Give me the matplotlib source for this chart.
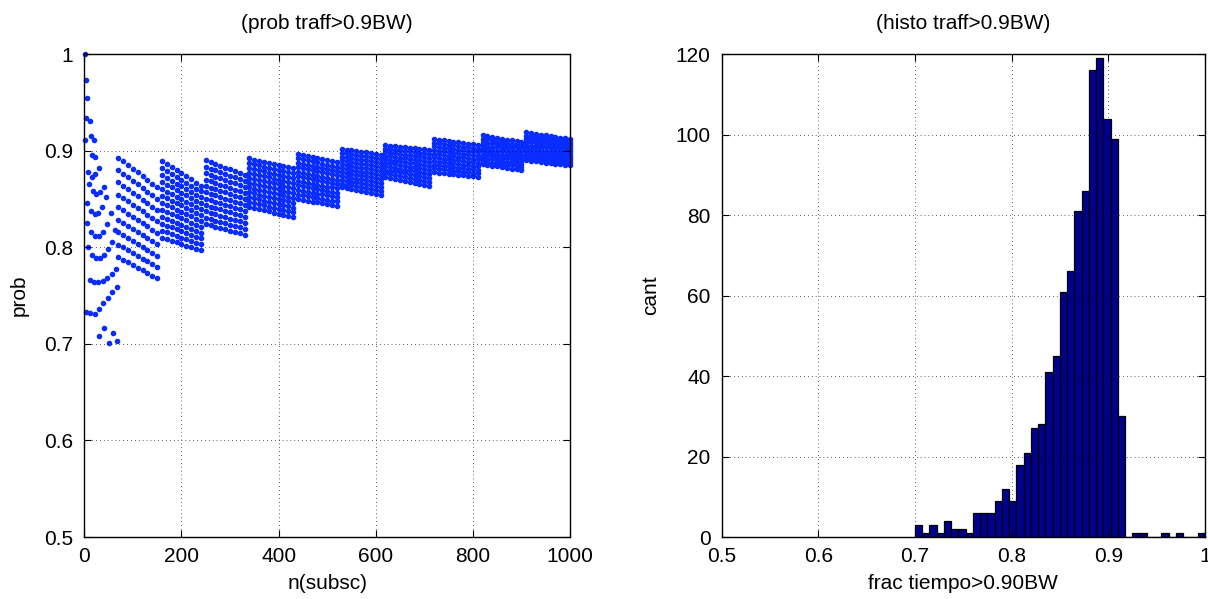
import numpy as np
import matplotlib.pyplot as plt

plt.rcParams['font.family'] = ['Liberation Sans', 'DejaVu Sans']

# --- left panel: prob vs number of subscribers ---
# first group (few subscribers), read point by point
b1_n = [1, 3, 5, 4, 11, 2, 13, 20, 16, 22,
        8, 15, 23, 31,
        10, 17, 25, 33, 40,
        5, 13, 21, 29, 37, 45,
        6, 14, 22, 30, 38, 46, 54,
        8, 16, 24, 32, 40, 48, 56, 64,
        12, 20, 29, 38, 47, 57, 66,
        3, 12, 22, 31, 39, 49, 58, 68,
        31, 41, 51, 60, 68]
b1_p = [1.000, 0.973, 0.955, 0.934, 0.931, 0.911, 0.915, 0.911, 0.896, 0.894,
        0.878, 0.873, 0.876, 0.882,
        0.866, 0.858, 0.855, 0.857, 0.862,
        0.846, 0.838, 0.835, 0.836, 0.842, 0.852,
        0.825, 0.816, 0.812, 0.812, 0.816, 0.824, 0.836,
        0.800, 0.792, 0.789, 0.789, 0.792, 0.798, 0.806, 0.818,
        0.766, 0.764, 0.764, 0.765, 0.768, 0.772, 0.778,
        0.733, 0.732, 0.731, 0.736, 0.742, 0.748, 0.754, 0.759,
        0.708, 0.716, 0.701, 0.711, 0.703]

# later groups: columns every 10 subscribers, corner values of each group
band_n0 = [70, 160, 250, 340, 440, 530, 620, 720, 820, 910]
band_n1 = [150, 240, 330, 430, 520, 610, 710, 810, 900, 1000]
top_left = [0.893, 0.889, 0.890, 0.892, 0.897, 0.902, 0.906, 0.912, 0.916, 0.919]
top_right = [0.862, 0.864, 0.875, 0.882, 0.888, 0.896, 0.901, 0.906, 0.909, 0.912]
bot_left = [0.790, 0.810, 0.824, 0.842, 0.850, 0.862, 0.873, 0.878, 0.886, 0.890]
bot_right = [0.768, 0.797, 0.813, 0.831, 0.843, 0.854, 0.864, 0.873, 0.880, 0.885]
rows_per_col = [9, 12, 11, 11, 11, 11, 10, 10, 10, 10]

# --- right panel: histogram of the fraction of time ---
bin_lo = 0.7
bin_w = 0.0075
counts = [3, 1, 3, 1, 4, 2, 2, 1, 6, 6,
          6, 9, 12, 9, 18, 21, 27, 28, 41, 45,
          61, 66, 81, 86, 116, 119, 104, 99, 30, 0,
          1, 1, 0, 0, 1, 0, 1, 0, 0, 1]

xs, ys = list(b1_n), list(b1_p)
for k in range(len(band_n0)):
    cols = np.arange(band_n0[k], band_n1[k] + 1, 10)
    t = np.linspace(0, 1, len(cols))
    tops = top_left[k] + t * (top_right[k] - top_left[k])
    bots = bot_left[k] + t * (bot_right[k] - bot_left[k])
    for c, hi, lo in zip(cols, tops, bots):
        for v in np.linspace(hi, lo, rows_per_col[k]):
            xs.append(c)
            ys.append(v)


def matlab_axes(ax):
    ax.tick_params(direction='in', top=True, right=True, labelsize=15,
                   length=5, width=0.8)
    ax.tick_params(axis='x', pad=7)
    ax.tick_params(axis='y', pad=8)
    for s in ax.spines.values():
        s.set_linewidth(1.0)
    ax.grid(True, color='black', linestyle=(0, (0.6, 3.4)), linewidth=0.7)
    ax.set_axisbelow(False)


fig = plt.figure(figsize=(12.08, 5.99), dpi=100)

ax1 = fig.add_axes([0.0698, 0.1035, 0.402, 0.806])
ax1.plot(xs, ys, '.', color='#0a2dff', markersize=6, clip_on=False)
ax1.set_xlim(0, 1000)
ax1.set_ylim(0.5, 1)
ax1.set_xticks([0, 200, 400, 600, 800, 1000])
ax1.set_yticks([0.5, 0.6, 0.7, 0.8, 0.9, 1])
ax1.set_yticklabels(['0.5', '0.6', '0.7', '0.8', '0.9', '1'])
ax1.set_xlabel('n(subsc)', fontsize=15, labelpad=6)
ax1.set_ylabel('prob', fontsize=15, labelpad=11)
ax1.set_title('(prob traff>0.9BW)', fontsize=15, pad=18)
matlab_axes(ax1)

ax2 = fig.add_axes([0.5974, 0.1035, 0.4001, 0.806])
edges = bin_lo + bin_w * np.arange(len(counts))
ax2.bar(edges, counts, width=bin_w, align='edge', color='#00008f',
        edgecolor='black', linewidth=0.9)
ax2.set_xlim(0.5, 1)
ax2.set_ylim(0, 120)
ax2.set_xticks([0.5, 0.6, 0.7, 0.8, 0.9, 1])
ax2.set_xticklabels(['0.5', '0.6', '0.7', '0.8', '0.9', '1'])
ax2.set_yticks(range(0, 121, 20))
ax2.set_xlabel('frac tiempo>0.90BW', fontsize=15, labelpad=6)
ax2.set_ylabel('cant', fontsize=15, labelpad=11)
ax2.set_title('(histo traff>0.9BW)', fontsize=15, pad=18)
matlab_axes(ax2)

fig.savefig('out.png', dpi=100)
